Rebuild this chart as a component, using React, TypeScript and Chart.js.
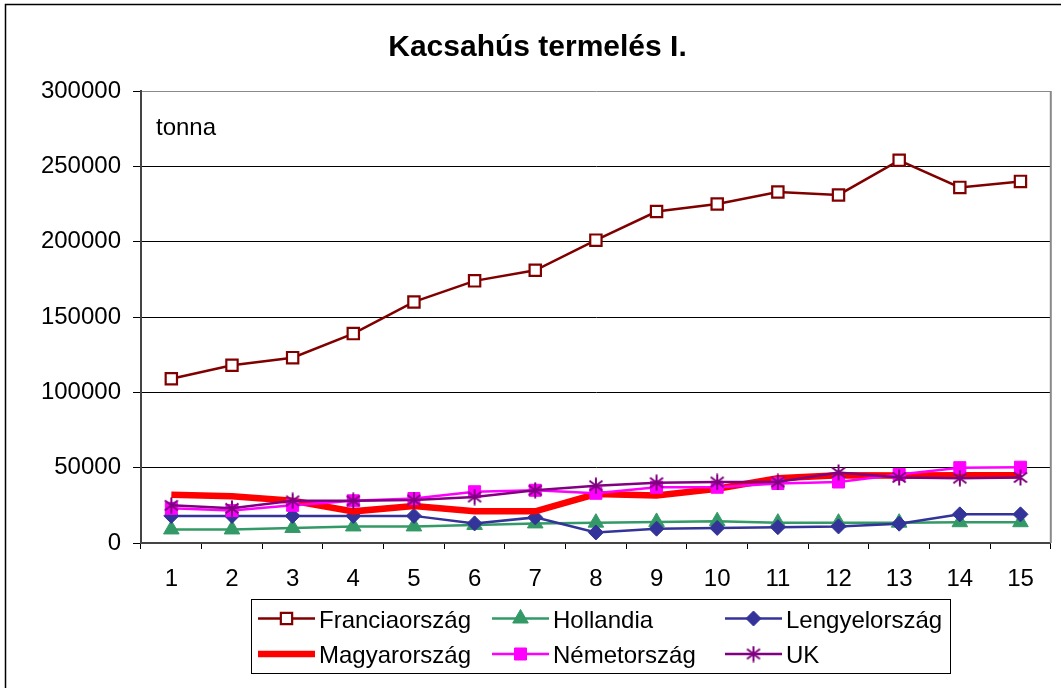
import React, { useEffect, useRef } from 'react';
import { Chart, registerables } from 'chart.js';
import { drawPoint } from 'chart.js/helpers';

Chart.register(...registerables);

const TITLE = 'Kacsahús termelés I.';
const UNIT = 'tonna';
const categories = ['1', '2', '3', '4', '5', '6', '7', '8', '9', '10', '11', '12', '13', '14', '15'];
const seriesNames = ['Franciaország', 'Hollandia', 'Lengyelország', 'Magyarország', 'Németország', 'UK'];

const franciaorszag = [109000, 118000, 123000, 139000, 160000, 174000, 181000, 201000, 220000, 225000, 233000, 231000, 254000, 236000, 240000];
const hollandia = [9000, 9000, 10000, 11000, 11000, 12000, 13000, 13500, 14000, 14500, 13500, 13500, 13500, 13800, 13800];
const lengyelorszag = [18000, 18000, 18000, 18000, 18000, 13000, 17000, 7000, 9500, 10000, 10500, 11000, 12800, 19000, 19000];
const magyarorszag = [32000, 31000, 28000, 21000, 24500, 21000, 21000, 32500, 31500, 36000, 43000, 45000, 44800, 45000, 45000];
const nemetorszag = [23000, 21500, 25000, 28000, 29500, 34000, 35000, 33000, 37000, 37000, 39500, 40500, 45500, 50000, 50300];
const uk = [25000, 23000, 28000, 28000, 28500, 30500, 35000, 38000, 40000, 40500, 40500, 46800, 43500, 43000, 43500];

const yMin = 0;
const yMax = 300000;
const yStep = 50000;

const FONT = '"Liberation Sans", Arial, sans-serif';

function makeStar(color: string) {
  const c = document.createElement('canvas');
  c.width = 16;
  c.height = 17;
  const g = c.getContext('2d')!;
  g.strokeStyle = color;
  g.lineWidth = 2;
  g.lineCap = 'butt';
  g.beginPath();
  g.moveTo(8, 0.5);
  g.lineTo(8, 16.5);
  g.moveTo(1.5, 3.5);
  g.lineTo(14.5, 13.5);
  g.moveTo(1.5, 13.5);
  g.lineTo(14.5, 3.5);
  g.stroke();
  return c;
}

const decorPlugin = {
  id: 'decor',
  afterDraw(chart: any) {
    const ctx = chart.ctx;
    const a = chart.chartArea;
    ctx.save();
    // outer frame (left and top edges visible)
    ctx.strokeStyle = '#000';
    ctx.lineWidth = 1.5;
    ctx.beginPath();
    ctx.moveTo(5.5, 688);
    ctx.lineTo(5.5, 4.5);
    ctx.lineTo(1061, 4.5);
    ctx.stroke();
    // plot area right edge
    ctx.strokeStyle = '#8a8a8a';
    ctx.lineWidth = 2;
    ctx.beginPath();
    ctx.moveTo(a.right, a.top);
    ctx.lineTo(a.right, a.bottom);
    ctx.stroke();
    // title
    ctx.fillStyle = '#000';
    ctx.font = 'bold 30px ' + FONT;
    ctx.textAlign = 'center';
    ctx.textBaseline = 'alphabetic';
    ctx.fillText(TITLE, 537.5, 56);
    // unit
    ctx.font = '24px ' + FONT;
    ctx.textAlign = 'left';
    ctx.fillText(UNIT, 156, 135);
    // legend
    ctx.strokeStyle = '#000';
    ctx.lineWidth = 1;
    ctx.strokeRect(251.5, 599.5, 699, 74);
    const colX = [258, 492, 725];
    const rowY = [618.5, 654];
    chart.data.datasets.forEach((ds: any, i: number) => {
      const col = i % 3;
      const row = Math.floor(i / 3);
      const x0 = colX[col];
      const y = rowY[row];
      ctx.strokeStyle = ds.borderColor;
      ctx.lineWidth = ds.borderWidth;
      ctx.beginPath();
      ctx.moveTo(x0, y);
      ctx.lineTo(x0 + 57, y);
      ctx.stroke();
      if (ds.pointRadius > 0) {
        ctx.fillStyle = ds.pointBackgroundColor;
        ctx.strokeStyle = ds.pointBorderColor;
        ctx.lineWidth = ds.pointBorderWidth;
        drawPoint(ctx, { pointStyle: ds.pointStyle, radius: ds.pointRadius, borderWidth: ds.pointBorderWidth, rotation: 0 } as any, x0 + 28.5, y);
      }
      ctx.fillStyle = '#000';
      ctx.font = '24px ' + FONT;
      ctx.textAlign = 'left';
      ctx.fillText(ds.label, x0 + 61, y + 9);
    });
    ctx.restore();
  },
};

export default function App() {
  const ref = useRef<HTMLCanvasElement>(null);
  useEffect(() => {
    document.body.style.margin = '0';
    const star = makeStar('#800080');
    const mk = (label: string, data: number[], color: string, width: number, style: any, radius: number, bg: string, bw: number, order: number) => ({
      label,
      data,
      borderColor: color,
      backgroundColor: color,
      borderWidth: width,
      pointStyle: style,
      pointRadius: radius,
      pointHoverRadius: radius,
      pointBackgroundColor: bg,
      pointBorderColor: color,
      pointBorderWidth: bw,
      tension: 0,
      fill: false,
      order,
    });
    const chart = new Chart(ref.current!, {
      type: 'line',
      data: {
        labels: categories,
        datasets: [
          mk(seriesNames[0], franciaorszag, '#800000', 2.5, 'rect', 8, '#ffffff', 2.2, 6),
          mk(seriesNames[1], hollandia, '#339966', 2.5, 'triangle', 9, '#339966', 1, 5),
          mk(seriesNames[2], lengyelorszag, '#333399', 2.5, 'rectRot', 7.5, '#333399', 1, 4),
          mk(seriesNames[3], magyarorszag, '#FF0000', 6.5, 'circle', 0, '#FF0000', 0, 3),
          mk(seriesNames[4], nemetorszag, '#FF00FF', 2.5, 'rect', 8.5, '#FF00FF', 1, 2),
          mk(seriesNames[5], uk, '#800080', 2.5, star, 8, '#800080', 1, 1),
        ],
      },
      options: {
        responsive: false,
        animation: false,
        events: [],
        layout: { padding: { top: 91, right: 9, bottom: 85, left: 0 } },
        plugins: { legend: { display: false }, tooltip: { enabled: false }, title: { display: false } },
        scales: {
          x: {
            type: 'category',
            offset: true,
            grid: { offset: true, drawOnChartArea: false, drawTicks: true, tickLength: 6, tickColor: '#000', color: '#000' },
            border: { display: true, color: '#444', width: 2 },
            ticks: { color: '#000', font: { family: FONT, size: 24 }, padding: 16, maxRotation: 0, autoSkip: false },
            afterFit: (s: any) => { s.height = 60; },
          },
          y: {
            min: yMin,
            max: yMax,
            grid: {
              color: (c: any) => (c.tick && c.tick.value === yMax ? '#8a8a8a' : '#000'),
              lineWidth: 1,
              drawTicks: true,
              tickLength: 8,
              tickColor: '#000',
            },
            border: { display: true, color: '#444', width: 2 },
            ticks: {
              stepSize: yStep,
              color: '#000',
              font: { family: FONT, size: 24 },
              padding: 12,
              callback: (v: any) => String(v),
            },
            afterFit: (s: any) => { s.width = 141; },
          },
        },
      } as any,
      plugins: [decorPlugin],
    });
    return () => chart.destroy();
  }, []);
  return <canvas ref={ref} width={1061} height={688} style={{ display: 'block', width: 1061, height: 688 }} />;
}
